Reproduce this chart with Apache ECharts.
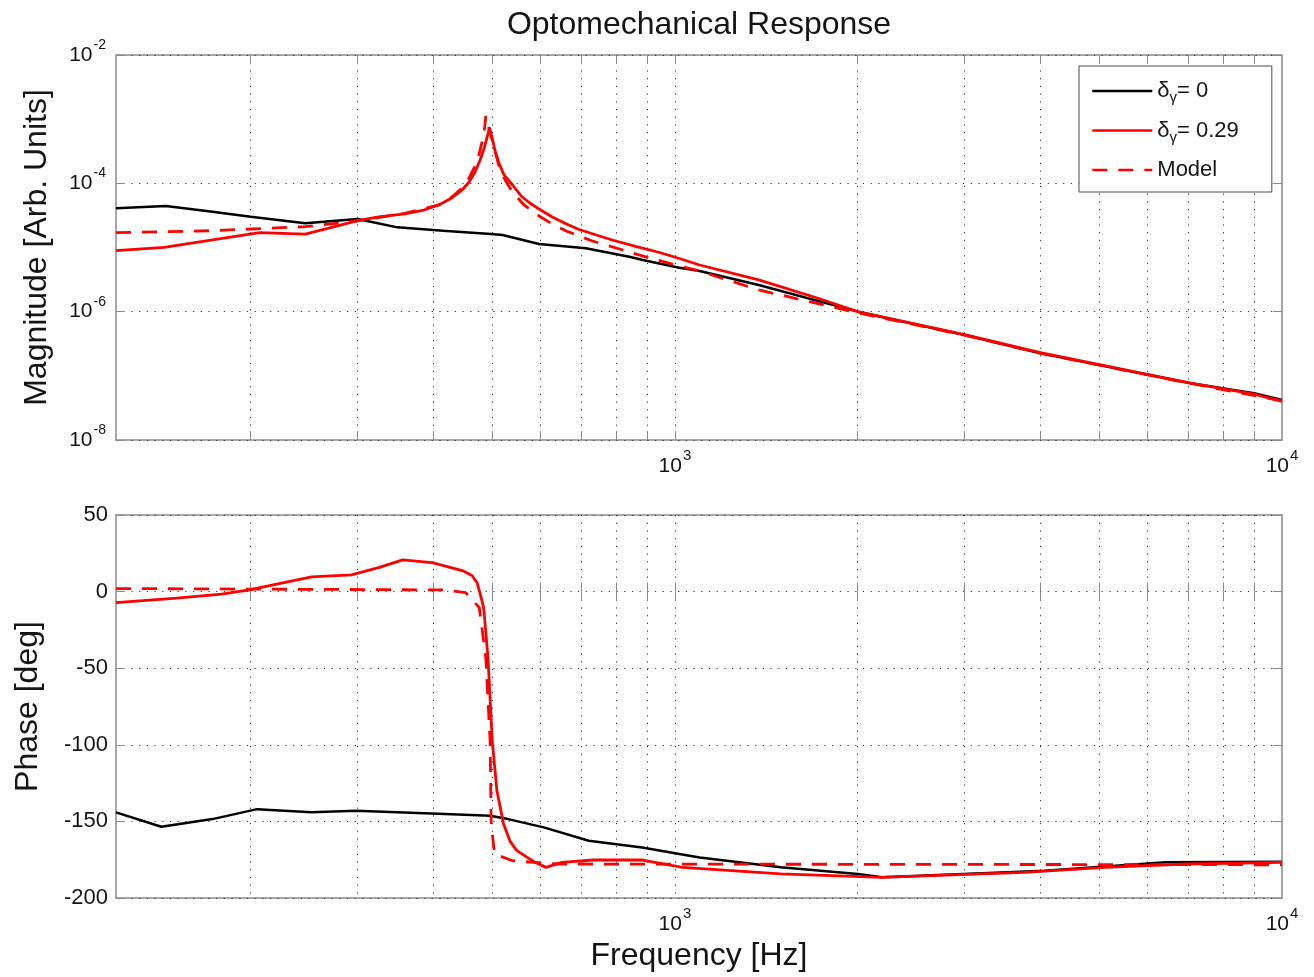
<!DOCTYPE html>
<html>
<head>
<meta charset="utf-8">
<title>Optomechanical Response</title>
<script src="https://cdn.jsdelivr.net/npm/echarts@6/dist/echarts.min.js"></script>
<style>
  html, body { margin: 0; padding: 0; background: #fff; }
  #chart { width: 1314px; height: 977px; }
</style>
</head>
<body>
<div id="chart"></div>
<script>
// ---- data ----
var seriesNames = ['δγ = 0', 'δγ = 0.29', 'Model'];

// magnitude, delta_gamma = 0
var fMagRef = [120, 145, 173, 200, 246, 300, 349, 415, 497, 520, 597, 713, 841, 885, 1017, 1098, 1374, 2000, 3000, 4000, 5000, 7070, 9000, 10000];
var magRef = [4.08e-5, 4.43e-5, 3.61e-5, 3.02e-5, 2.38e-5, 2.78e-5, 2.06e-5, 1.83e-5, 1.62e-5, 1.567e-5, 1.134e-5, 9.7e-6, 7.19e-6, 6.39e-6, 4.84e-6, 4.30e-6, 2.60e-6, 1.0e-6, 4.33e-7, 2.245e-7, 1.476e-7, 7.65e-8, 5.35e-8, 4.2e-8];

// magnitude, delta_gamma = 0.29
var fMagDet = [120, 144, 173, 207, 246, 268, 300, 325, 359, 386, 408, 429, 446, 458, 468.5, 477.5, 485, 490, 495, 500, 505, 513, 523, 540, 558, 575, 597, 628, 660, 695, 742, 788, 861, 943, 1017, 1098, 1374, 1720, 2000, 3000, 4000, 5000, 7070, 9000, 10000];
var magDet = [8.92e-6, 1.008e-5, 1.31e-5, 1.70e-5, 1.62e-5, 1.99e-5, 2.62e-5, 2.99e-5, 3.33e-5, 3.84e-5, 4.6e-5, 5.91e-5, 7.87e-5, 1.049e-4, 1.50e-4, 2.31e-4, 3.55e-4, 5.09e-4, 7.42e-4, 5.09e-4, 3.31e-4, 2.05e-4, 1.35e-4, 9.42e-5, 6.35e-5, 5.03e-5, 3.98e-5, 2.99e-5, 2.37e-5, 1.91e-5, 1.567e-5, 1.31e-5, 1.04e-5, 8.36e-6, 6.74e-6, 5.34e-6, 3.12e-6, 1.62e-6, 1.0e-6, 4.4e-7, 2.3e-7, 1.5e-7, 7.7e-8, 5.2e-8, 4.0e-8];

// magnitude, model
var fMagModel = [120, 173, 246, 300, 359, 408, 429, 446, 458, 468.5, 475.7, 481, 485.8, 487.8, 492, 499.7, 507.3, 513, 525, 540, 564, 597, 628, 662, 731, 810, 908, 1017, 1098, 1374, 2000, 3000, 4000, 5000, 7070, 10000];
var magModel = [1.70e-5, 1.83e-5, 2.11e-5, 2.59e-5, 3.41e-5, 4.6e-5, 6.12e-5, 8.46e-5, 1.211e-4, 1.863e-4, 2.86e-4, 4.41e-4, 7.29e-4, 1.12e-3, 8.11e-4, 4.74e-4, 2.76e-4, 1.863e-4, 1.127e-4, 7.33e-5, 4.6e-5, 3.10e-5, 2.32e-5, 1.81e-5, 1.263e-5, 9.48e-6, 6.86e-6, 5.15e-6, 4.31e-6, 2.18e-6, 9.6e-7, 4.3e-7, 2.25e-7, 1.47e-7, 7.6e-8, 4.1e-8];

// phase, delta_gamma = 0
var fPhRef = [120, 142.5, 173, 205, 252, 298, 418, 496, 531, 608, 721, 883, 1017, 1098, 1494, 2002, 2193, 2983, 4060, 6433, 10000];
var phRef = [-144.1, -153.5, -148.5, -142, -144.1, -143, -145.2, -146.3, -148.5, -153.9, -162.6, -167, -171.3, -173.5, -180, -184.3, -186.5, -184.3, -182.2, -176.7, -176.3];

// phase, delta_gamma = 0.29
var fPhDet = [120, 151, 179, 198, 252, 293, 325, 356, 398, 448, 463, 472, 478, 484, 492, 500, 509, 522, 535, 549, 588, 613, 651, 733, 884, 1029, 1494, 2193, 3758, 5111, 6953, 10000];
var phDet = [-7.2, -4.3, -1.7, 0.9, 9.6, 10.9, 15.7, 20.7, 18.9, 13.5, 10.5, 5.9, -2, -10.4, -43, -97.4, -130, -151.7, -163, -169.1, -176.7, -180, -176.7, -175.2, -175.2, -180, -184.3, -186.5, -183.3, -180, -177.8, -176.7];

// phase, model
var fPhModel = [120, 418, 452, 476, 488, 496, 498, 504.5, 540, 640, 10000];
var phModel = [2.0, 1.1, -0.7, -10.4, -43, -97.4, -151.7, -171.3, -175.7, -177.8, -178.3];

// ticks
var freqTicks = [200, 300, 400, 500, 600, 700, 800, 900, 1000, 2000, 3000, 4000, 5000, 6000, 7000, 8000, 9000];
var freqLabels = [1000, 10000];
var magTicks = [1e-8, 1e-6, 1e-4, 1e-2];
var phaseMin = -200, phaseMax = 50, phaseStep = 50;
var fMin = 120, fMax = 10000;

// ---- style ----
var FONT = '"Liberation Sans", Arial, Helvetica, sans-serif';
var boxColor = '#8a8a8a';
var textColor = '#151515';
var red = '#ff0000';
var dotted = { color: '#333', width: 1, type: [1.2, 6.5] };

function zip(xs, ys) {
  var out = [];
  for (var i = 0; i < xs.length; i++) out.push([xs[i], ys[i]]);
  return out;
}

function powLabel(v) {
  var e = Math.round(Math.log10(v));
  return '{b|10}{s|' + e + '}';
}

var xRich = {
  b: { fontSize: 21, fontFamily: FONT, color: textColor },
  s: { fontSize: 15, fontFamily: FONT, color: textColor, padding: [0, 0, 22, 1] }
};
var yRich = {
  b: { fontSize: 21, fontFamily: FONT, color: textColor },
  s: { fontSize: 14, fontFamily: FONT, color: textColor, padding: [0, 0, 20, 1] }
};
var nameStyle = { fontSize: 32, fontFamily: FONT, color: textColor };

function freqAxis(grid, pos, withLabels) {
  return {
    gridIndex: grid,
    type: 'log',
    logBase: 10,
    min: fMin,
    max: fMax,
    position: pos,
    axisLine: { show: false },
    axisTick: { show: true, inside: true, length: 9, customValues: freqTicks, lineStyle: { color: boxColor, width: 1 } },
    axisLabel: withLabels ? { show: true, customValues: freqLabels, formatter: powLabel, margin: 8, rich: xRich } : { show: false },
    splitLine: { show: withLabels, lineStyle: dotted },
    minorTick: { show: false },
    minorSplitLine: { show: false }
  };
}

var xAxes = [freqAxis(0, 'bottom', true), freqAxis(1, 'bottom', true), freqAxis(0, 'top', false), freqAxis(1, 'top', false)];
// title sits over the top panel, centred on the plot box
xAxes[2].name = 'Optomechanical Response';
xAxes[2].nameLocation = 'middle';
xAxes[2].nameGap = 14;
xAxes[2].nameTextStyle = nameStyle;
xAxes[1].name = 'Frequency [Hz]';
xAxes[1].nameLocation = 'middle';
xAxes[1].nameGap = 42;
xAxes[1].nameTextStyle = nameStyle;

function magAxis(pos, main) {
  return {
    gridIndex: 0,
    type: 'log',
    logBase: 10,
    min: 1e-8,
    max: 1e-2,
    position: pos,
    axisLine: { show: false },
    axisTick: { show: true, inside: true, length: 9, customValues: magTicks, lineStyle: { color: boxColor, width: 1 } },
    axisLabel: main ? { show: true, customValues: magTicks, formatter: powLabel, margin: 10, rich: yRich } : { show: false },
    splitLine: { show: main, lineStyle: dotted },
    name: main ? 'Magnitude [Arb. Units]' : '',
    nameLocation: 'middle',
    nameGap: 63,
    nameTextStyle: nameStyle
  };
}

function phaseAxis(pos, main) {
  return {
    gridIndex: 1,
    type: 'value',
    min: phaseMin,
    max: phaseMax,
    interval: phaseStep,
    position: pos,
    axisLine: { show: false },
    axisTick: { show: true, inside: true, length: 9, lineStyle: { color: boxColor, width: 1 } },
    axisLabel: main ? { show: true, fontSize: 22, fontFamily: FONT, color: textColor, margin: 8 } : { show: false },
    splitLine: { show: main, lineStyle: dotted },
    name: main ? 'Phase [deg]' : '',
    nameLocation: 'middle',
    nameGap: 72,
    nameTextStyle: nameStyle
  };
}

var yAxes = [magAxis('left', true), phaseAxis('left', true), magAxis('right', false), phaseAxis('right', false)];

function lineSeries(name, xi, yi, data, color, width, dashed, z) {
  return {
    name: name,
    type: 'line',
    xAxisIndex: xi,
    yAxisIndex: yi,
    data: data,
    symbol: 'none',
    showSymbol: false,
    smooth: false,
    z: z,
    itemStyle: { color: color },
    lineStyle: { color: color, width: width, type: dashed ? [15, 11] : 'solid' },
    emphasis: { disabled: true },
    animation: false
  };
}

var chart = echarts.init(document.getElementById('chart'));
chart.setOption({
  backgroundColor: '#ffffff',
  animation: false,
  grid: [
    { left: 116, right: 32, top: 55, height: 385, show: true, borderColor: boxColor, borderWidth: 1.5, backgroundColor: '#fff' },
    { left: 116, right: 32, top: 515, height: 383, show: true, borderColor: boxColor, borderWidth: 1.5, backgroundColor: '#fff' }
  ],
  xAxis: xAxes,
  yAxis: yAxes,
  legend: {
    data: seriesNames,
    orient: 'vertical',
    left: 1079,
    top: 66,
    padding: [14, 33, 11, 12],
    itemWidth: 60,
    itemHeight: 14,
    itemGap: 14,
    backgroundColor: '#fff',
    borderColor: '#4a4a4a',
    borderWidth: 1,
    selectedMode: false,
    itemStyle: { opacity: 0 },
    lineStyle: { width: 2.6 },
    textStyle: {
      fontFamily: FONT,
      fontSize: 22,
      color: textColor,
      rich: {
        d: { fontSize: 22, fontFamily: FONT, color: textColor },
        g: { fontSize: 15, fontFamily: FONT, color: textColor, padding: [14, 0, 0, 0] },
        t: { fontSize: 22, fontFamily: FONT, color: textColor }
      }
    },
    formatter: function (name) {
      if (name.charAt(0) !== 'δ') return name;
      return '{d|δ}{g|γ}{t|' + name.slice(3) + '}';
    }
  },
  series: [
    lineSeries(seriesNames[0], 0, 0, zip(fMagRef, magRef), '#000000', 2.5, false, 3),
    lineSeries(seriesNames[1], 0, 0, zip(fMagDet, magDet), red, 2.8, false, 4),
    lineSeries(seriesNames[2], 0, 0, zip(fMagModel, magModel), red, 2.8, true, 5),
    lineSeries(seriesNames[0], 1, 1, zip(fPhRef, phRef), '#000000', 2.5, false, 3),
    lineSeries(seriesNames[1], 1, 1, zip(fPhDet, phDet), red, 2.8, false, 4),
    lineSeries(seriesNames[2], 1, 1, zip(fPhModel, phModel), red, 2.8, true, 5)
  ]
});
</script>
</body>
</html>
